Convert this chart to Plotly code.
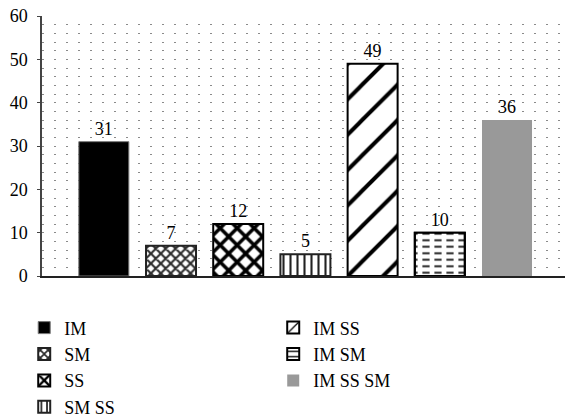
import plotly.graph_objects as go

# Category order along the x axis and the bar heights
categories = ["IM", "SM", "SS", "SM SS", "IM SS", "IM SM", "IM SS SM"]
values = [31, 7, 12, 5, 49, 10, 36]

# Fill style for each category
fills = {
    "IM": dict(color="black", line_color="#777777", line_width=1, pattern=None),
    "SM": dict(color="white", line_color="#222222", line_width=2,
               pattern=dict(shape="x", size=7, solidity=0.5, fgcolor="#2a2a2a", bgcolor="white")),
    "SS": dict(color="white", line_color="black", line_width=2,
               pattern=dict(shape="x", size=12, solidity=0.5, fgcolor="black", bgcolor="white")),
    "SM SS": dict(color="white", line_color="#222222", line_width=2,
                  pattern=dict(shape="|", size=7, solidity=0.3, fgcolor="#222222", bgcolor="white")),
    "IM SS": dict(color="white", line_color="black", line_width=2,
                  pattern=dict(shape="/", size=25, solidity=0.16, fgcolor="black", bgcolor="white")),
    "IM SM": dict(color="white", line_color="black", line_width=2,
                  pattern=dict(shape="-", size=6.5, solidity=0.3, fgcolor="#222222", bgcolor="white")),
    "IM SS SM": dict(color="#999999", line_color="#999999", line_width=0, pattern=None),
}
# Categories whose horizontal lines are broken into dashes
dashed = ["IM SM"]

# Legend reads column by column; traces are added row by row in two columns
legend_order = ["IM", "IM SS", "SM", "IM SM", "SS", "IM SS SM", "SM SS"]

FONT = "Liberation Serif"
BAR_WIDTH = 0.744

fig = go.Figure()
for name in legend_order:
    i = categories.index(name)
    f = fills[name]
    marker = dict(color=f["color"], line=dict(color=f["line_color"], width=f["line_width"]))
    if f["pattern"] is not None:
        marker["pattern"] = dict(fillmode="replace", **f["pattern"])
    fig.add_trace(go.Bar(
        x=[name], y=[values[i]], name=name, width=BAR_WIDTH,
        marker=marker,
        text=[values[i]], textposition="outside", cliponaxis=False,
        textfont=dict(family=FONT, size=18, color="black"),
    ))

# White vertical stripes cut the horizontal lines into dashes,
# then the bar outline is drawn again on top
for name in dashed:
    i = categories.index(name)
    fig.add_trace(go.Bar(
        x=[name], y=[values[i]], width=BAR_WIDTH, showlegend=False, hoverinfo="skip",
        marker=dict(color="rgba(0,0,0,0)", line=dict(width=0),
                    pattern=dict(shape="|", size=12, solidity=0.4, fillmode="replace",
                                 fgcolor="white", bgcolor="rgba(0,0,0,0)")),
    ))
    fig.add_trace(go.Bar(
        x=[name], y=[values[i]], width=BAR_WIDTH, showlegend=False, hoverinfo="skip",
        marker=dict(color="rgba(0,0,0,0)",
                    line=dict(color=fills[name]["line_color"], width=fills[name]["line_width"])),
    ))

grid_dash = "2px,10px"
fig.update_layout(
    width=565, height=417,
    margin=dict(l=42, r=0, t=16, b=141, autoexpand=False),
    paper_bgcolor="white", plot_bgcolor="white",
    barmode="overlay",
    font=dict(family=FONT, size=18, color="black"),
    xaxis=dict(
        categoryorder="array", categoryarray=categories,
        range=[-0.92, 6.863], showticklabels=False, ticks="",
        showgrid=False, showline=True, linecolor="#222222", linewidth=1.5,
        zeroline=False,
    ),
    yaxis=dict(
        range=[0, 60], tickvals=[0, 10, 20, 30, 40, 50, 60],
        ticks="outside", ticklen=3, tickcolor="#444444", tickwidth=1,
        showline=True, linecolor="#444444", linewidth=1.5,
        showgrid=True, gridcolor="#8a8a8a", gridwidth=1.2, griddash=grid_dash,
        minor=dict(dtick=2, showgrid=True, gridcolor="#8a8a8a", gridwidth=1.2,
                   griddash=grid_dash),
        zeroline=False, ticklabelstandoff=6,
        tickfont=dict(family=FONT, size=18, color="black"),
    ),
    showlegend=True,
    legend=dict(
        orientation="h", entrywidth=204, entrywidthmode="pixels",
        x=-0.034, xanchor="left", y=-0.1285, yanchor="top",
        font=dict(family=FONT, size=18, color="black"),
        bgcolor="rgba(0,0,0,0)", traceorder="normal",
    ),
)

fig.write_html("out.html")
